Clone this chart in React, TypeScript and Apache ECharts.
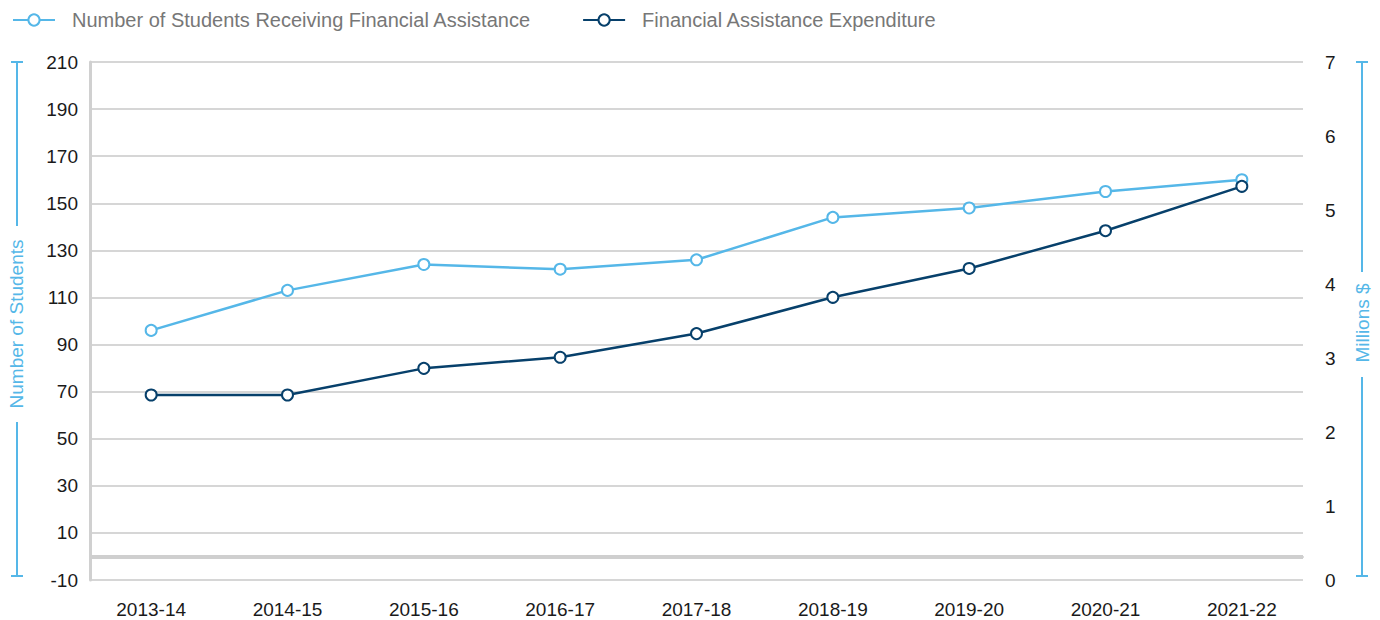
import React, { useEffect, useRef } from "react";
import * as echarts from "echarts";

const categories = ["2013-14", "2014-15", "2015-16", "2016-17", "2017-18", "2018-19", "2019-20", "2020-21", "2021-22"];
const studentsName = "Number of Students Receiving Financial Assistance";
const expenditureName = "Financial Assistance Expenditure";
const students = [96, 113, 124, 122, 126, 144, 148, 155, 160];
const expenditure = [2.5, 2.5, 2.86, 3.01, 3.33, 3.82, 4.21, 4.72, 5.32];
const leftTitle = "Number of Students";
const rightTitle = "Millions $";

const LIGHT = "#55b7e8";
const DARK = "#07406b";
const GRID = "#d6d6d6";
const FONT = "Liberation Sans, Arial, sans-serif";

export default function App() {
  const ref = useRef<HTMLDivElement>(null);
  useEffect(() => {
    if (!ref.current) return;
    const chart = echarts.init(ref.current, null, { renderer: "svg" });
    const symbolStyle = (c: string) => ({ color: c, borderColor: c, borderWidth: 2.5 });
    chart.setOption({
      animation: false,
      textStyle: { fontFamily: FONT },
      legend: {
        top: 5,
        left: 7,
        itemWidth: 42,
        itemHeight: 14,
        itemGap: 51,
        textStyle: { color: "#777", fontSize: 20, fontFamily: FONT, padding: [0, 0, 0, 12] },
        data: [studentsName, expenditureName],
      },
      grid: [
        { left: 90, right: 77, top: 62, bottom: 40 },
        { left: 83, right: 70, top: 62, bottom: 40 },
      ],
      xAxis: [
        {
          gridIndex: 0,
          type: "category",
          data: categories,
          axisLine: { show: true, lineStyle: { color: "#d0d0d0", width: 2 } },
          axisTick: { show: false },
          axisLabel: { show: false },
          splitLine: { show: false },
        },
        {
          gridIndex: 1,
          type: "category",
          data: categories,
          axisLine: { show: false },
          axisTick: { show: false },
          axisLabel: { margin: 20, fontSize: 19, color: "#1a1a1a", fontFamily: FONT },
          splitLine: { show: false },
        },
      ],
      yAxis: [
        {
          gridIndex: 0,
          type: "value",
          position: "left",
          min: -10,
          max: 210,
          interval: 20,
          axisLine: { show: true, lineStyle: { color: "#d0d0d0", width: 3 } },
          axisTick: { show: false },
          axisLabel: { margin: 12, fontSize: 19, color: "#1a1a1a", fontFamily: FONT },
          splitLine: { show: true, lineStyle: { color: GRID, width: 2 } },
        },
        {
          gridIndex: 0,
          type: "value",
          position: "right",
          min: 0,
          max: 7,
          interval: 1,
          axisLine: { show: false },
          axisTick: { show: false },
          axisLabel: { margin: 22, fontSize: 19, color: "#1a1a1a", fontFamily: FONT },
          splitLine: { show: false },
        },
        { gridIndex: 1, type: "value", min: -10, max: 210, show: false, splitLine: { show: false } },
        { gridIndex: 1, type: "value", min: 0, max: 7, show: false, splitLine: { show: false } },
      ],
      graphic: [
        { type: "line", shape: { x1: 17, y1: 62, x2: 17, y2: 226 }, style: { stroke: LIGHT, lineWidth: 2 } },
        { type: "line", shape: { x1: 17, y1: 422, x2: 17, y2: 576 }, style: { stroke: LIGHT, lineWidth: 2 } },
        { type: "line", shape: { x1: 11, y1: 62, x2: 23, y2: 62 }, style: { stroke: LIGHT, lineWidth: 2 } },
        { type: "line", shape: { x1: 11, y1: 576, x2: 23, y2: 576 }, style: { stroke: LIGHT, lineWidth: 2 } },
        {
          type: "text",
          x: 16,
          y: 324,
          rotation: Math.PI / 2,
          style: { text: leftTitle, fill: LIGHT, fontSize: 19, fontFamily: FONT, textAlign: "center", textVerticalAlign: "middle" },
        },
        { type: "line", shape: { x1: 1362, y1: 62, x2: 1362, y2: 272 }, style: { stroke: LIGHT, lineWidth: 2 } },
        { type: "line", shape: { x1: 1362, y1: 377, x2: 1362, y2: 576 }, style: { stroke: LIGHT, lineWidth: 2 } },
        { type: "line", shape: { x1: 1356, y1: 62, x2: 1368, y2: 62 }, style: { stroke: LIGHT, lineWidth: 2 } },
        { type: "line", shape: { x1: 1356, y1: 576, x2: 1368, y2: 576 }, style: { stroke: LIGHT, lineWidth: 2 } },
        {
          type: "text",
          x: 1362,
          y: 323,
          rotation: Math.PI / 2,
          style: { text: rightTitle, fill: LIGHT, fontSize: 19, fontFamily: FONT, textAlign: "center", textVerticalAlign: "middle" },
        },
      ],
      series: [
        {
          name: "zero",
          type: "line",
          xAxisIndex: 0,
          yAxisIndex: 0,
          data: [],
          silent: true,
          markLine: {
            silent: true,
            symbol: "none",
            label: { show: false },
            lineStyle: { color: "#cfcfcf", width: 4, type: "solid" },
            data: [{ yAxis: 0 }],
          },
        },
        {
          name: studentsName,
          type: "line",
          xAxisIndex: 1,
          yAxisIndex: 2,
          data: students,
          symbol: "emptyCircle",
          symbolSize: 11,
          lineStyle: { color: LIGHT, width: 2.5 },
          itemStyle: symbolStyle(LIGHT),
        },
        {
          name: expenditureName,
          type: "line",
          xAxisIndex: 1,
          yAxisIndex: 3,
          data: expenditure,
          symbol: "emptyCircle",
          symbolSize: 11,
          lineStyle: { color: DARK, width: 2.5 },
          itemStyle: symbolStyle(DARK),
        },
      ],
    });
    return () => chart.dispose();
  }, []);
  return <div ref={ref} style={{ width: 1380, height: 620, position: "absolute", left: 0, top: 0 }} />;
}
